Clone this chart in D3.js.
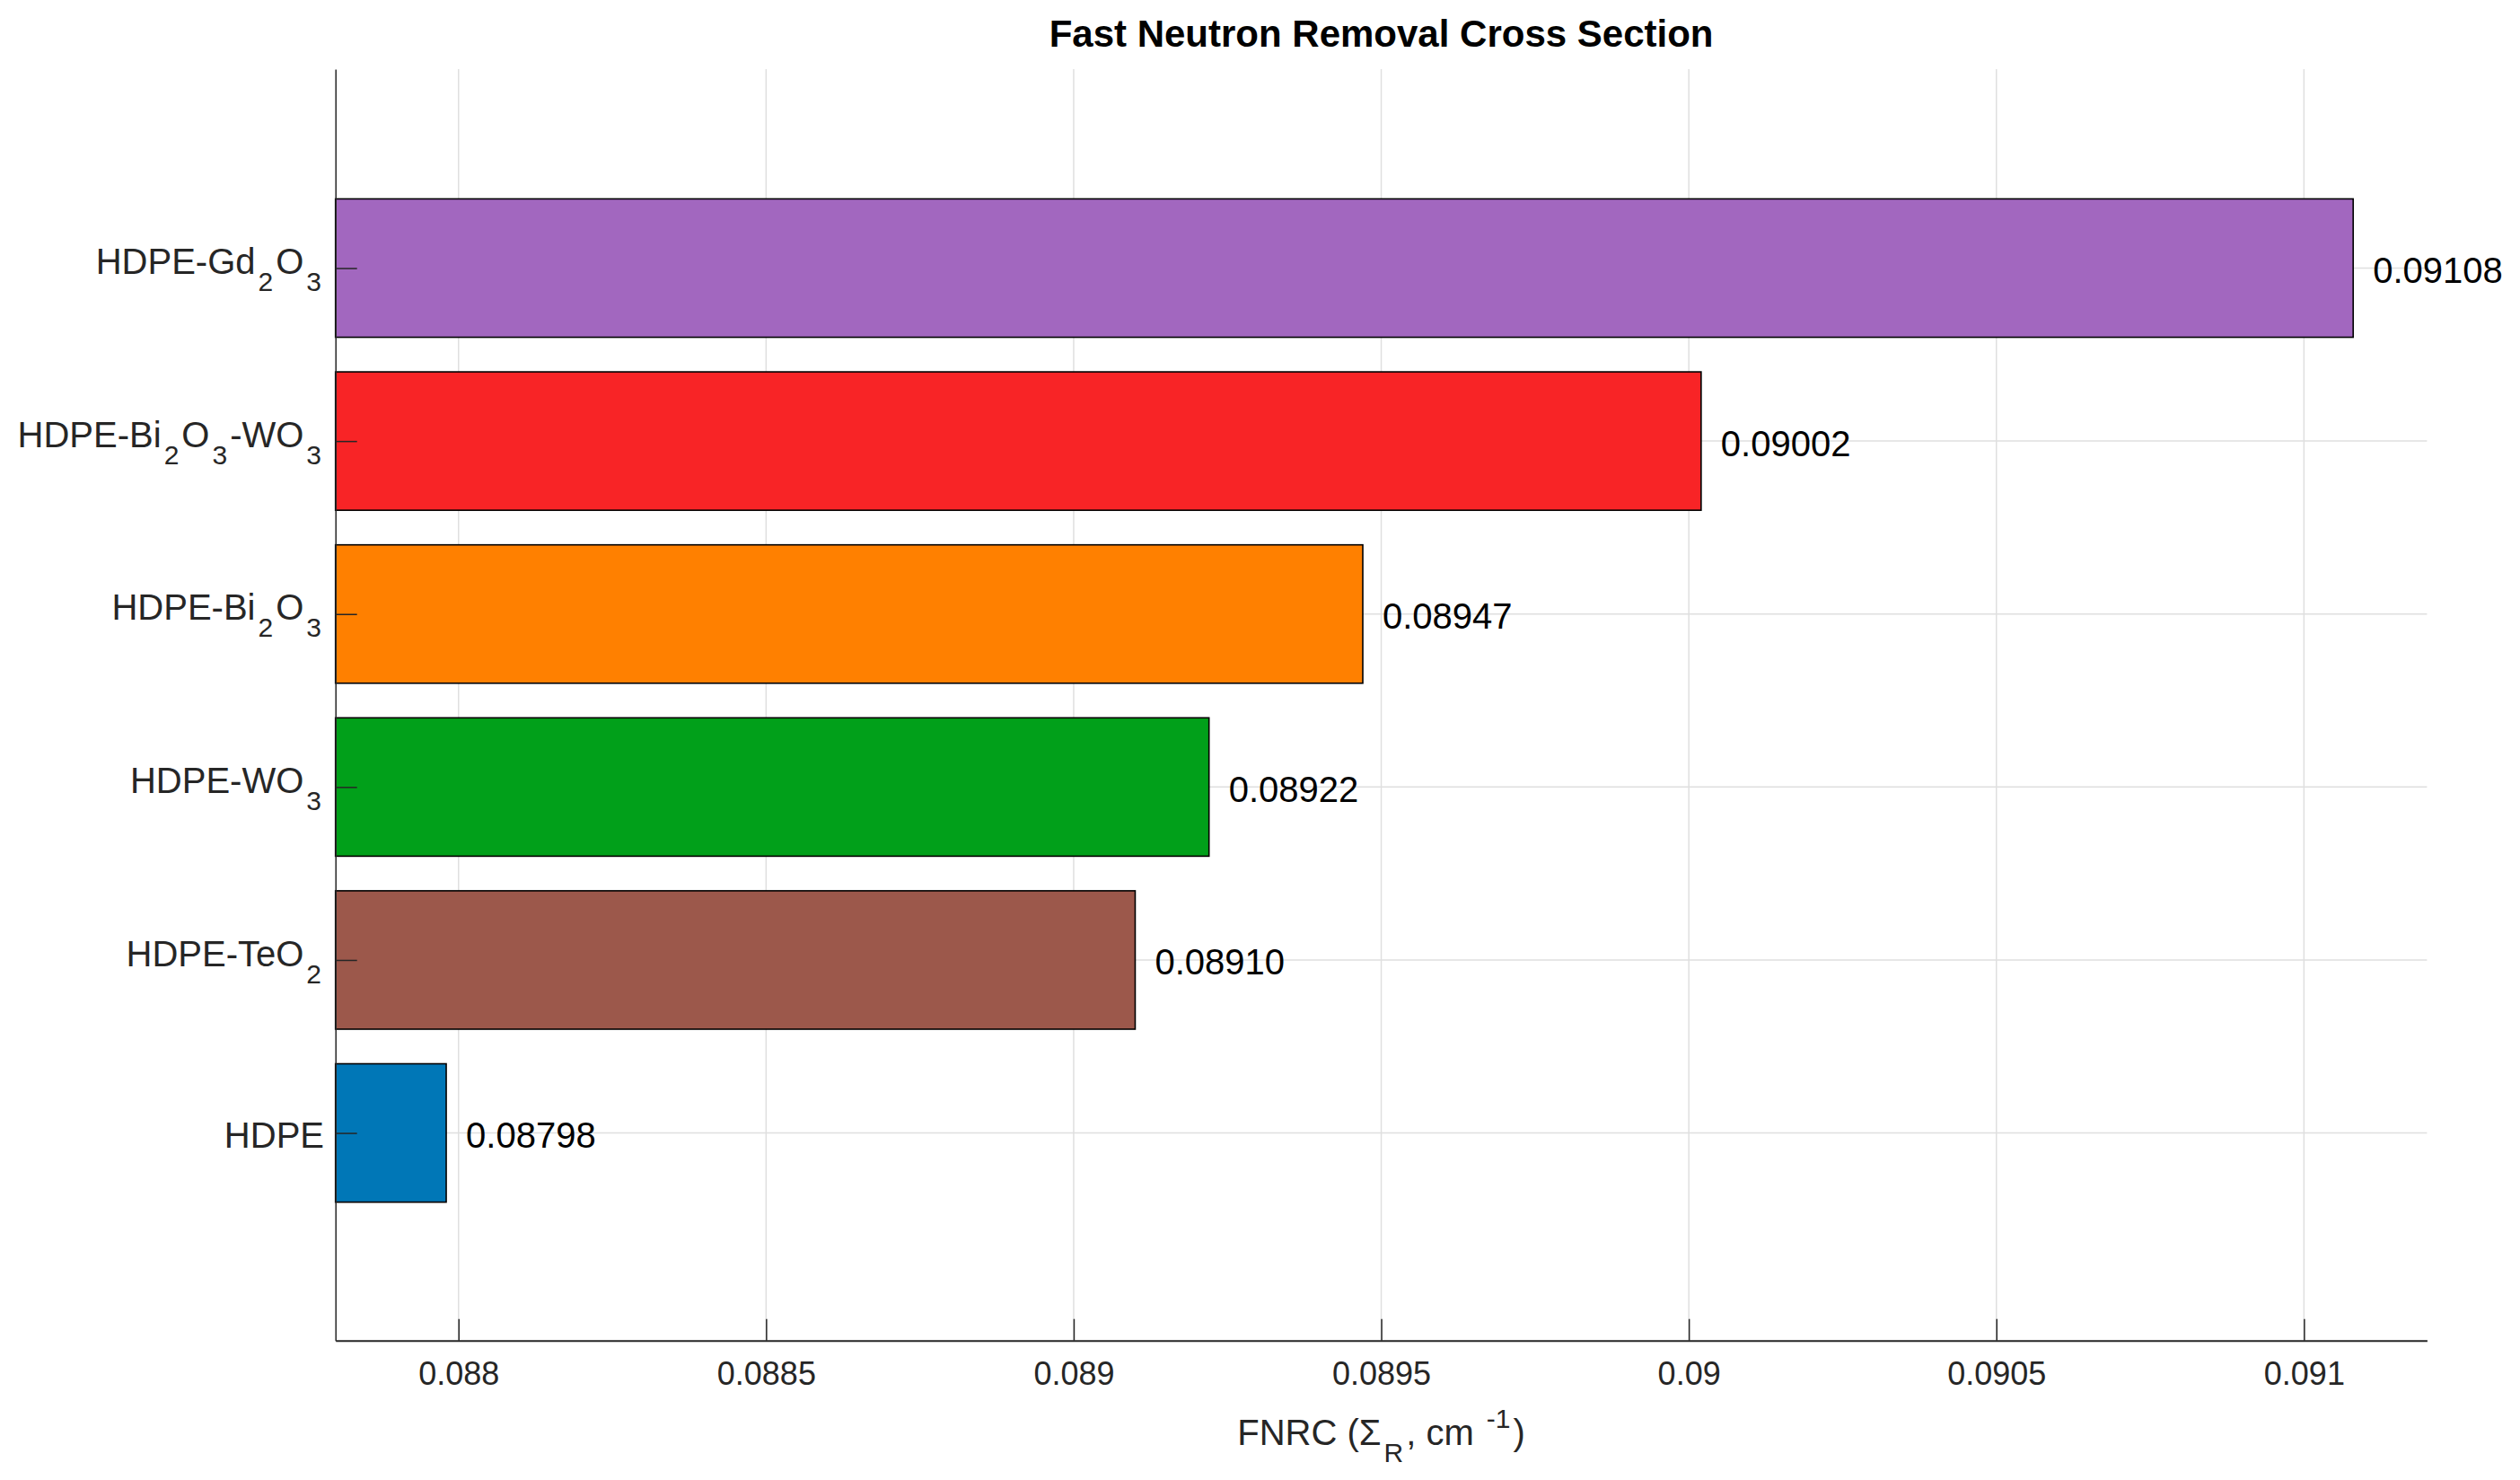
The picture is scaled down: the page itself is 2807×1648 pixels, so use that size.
<!DOCTYPE html>
<html>
<head>
<meta charset="utf-8">
<script src="https://cdn.jsdelivr.net/npm/d3@7"></script>
<style>
  html, body { margin: 0; padding: 0; background: #ffffff; }
  svg { display: block; }
  text { font-family: "Liberation Sans", Arial, Helvetica, sans-serif; }
</style>
</head>
<body>
<script>
// ---- Data ----
const categories = ["HDPE", "HDPE-TeO_2", "HDPE-WO_3", "HDPE-Bi_2O_3", "HDPE-Bi_2O_3-WO_3", "HDPE-Gd_2O_3"];
const values = [0.08798, 0.08910, 0.08922, 0.08947, 0.09002, 0.09108];
const barColors = ["#0077B7", "#9C584B", "#01A01A", "#FF8000", "#F82426", "#A267BF"];
const xTicks = [0.088, 0.0885, 0.089, 0.0895, 0.09, 0.0905, 0.091];
const xTickLabels = ["0.088", "0.0885", "0.089", "0.0895", "0.09", "0.0905", "0.091"];
const titleText = "Fast Neutron Removal Cross Section";

// ---- Layout ----
const W = 2807, H = 1648;
const pLeft = 373.7, pRight = 2703.4, pTop = 77, pBottom = 1492.7;

const svg = d3.select("body").append("svg").attr("width", W).attr("height", H);

const x = d3.scaleLinear().domain([0.0878, 0.0912]).range([pLeft, pRight]);
const y = d3.scaleLinear().domain([-0.2, 7.15]).range([pBottom, pTop]);
const barHalf = 0.4;

// grid
const grid = svg.append("g").attr("stroke", "#dfdfdf").attr("stroke-width", 1.5);
grid.selectAll("line.v").data(xTicks).join("line").attr("class", "v")
  .attr("x1", d => x(d)).attr("x2", d => x(d))
  .attr("y1", pTop).attr("y2", pBottom);
grid.selectAll("line.h").data(categories).join("line").attr("class", "h")
  .attr("x1", pLeft).attr("x2", pRight)
  .attr("y1", (d, i) => y(i + 1)).attr("y2", (d, i) => y(i + 1));

// bars
svg.append("g").selectAll("rect").data(values).join("rect")
  .attr("x", x.range()[0])
  .attr("y", (d, i) => y(i + 1 + barHalf))
  .attr("width", d => x(d) - x.range()[0])
  .attr("height", (d, i) => y(i + 1 - barHalf) - y(i + 1 + barHalf))
  .attr("fill", (d, i) => barColors[i])
  .attr("stroke", "#000").attr("stroke-width", 1.6);

// value labels
svg.append("g").selectAll("text").data(values).join("text")
  .attr("x", d => x(d) + 22)
  .attr("y", (d, i) => y(i + 1) + 16.5)
  .attr("font-size", 40).attr("fill", "#000")
  .text(d => d.toFixed(5));

// x axis
const xAxis = d3.axisBottom(x).tickValues(xTicks)
  .tickFormat((d, i) => xTickLabels[i])
  .tickSizeInner(-24).tickSizeOuter(0).tickPadding(24);
const gx = svg.append("g").attr("transform", `translate(0,${pBottom})`).call(xAxis);
gx.select(".domain").attr("stroke", "#262626").attr("stroke-width", 2);
gx.selectAll(".tick line").attr("stroke", "#262626").attr("stroke-width", 1.5);
gx.selectAll(".tick text").attr("font-size", 36).attr("fill", "#262626")
  .attr("font-family", '"Liberation Sans", Arial, Helvetica, sans-serif');

// y axis
const yAxis = d3.axisLeft(y).tickValues(categories.map((d, i) => i + 1))
  .tickFormat("").tickSizeInner(-24).tickSizeOuter(0);
const gy = svg.append("g").attr("transform", `translate(${pLeft},0)`).call(yAxis);
gy.select(".domain").attr("stroke", "#262626").attr("stroke-width", 1.5);
gy.selectAll(".tick line").attr("stroke", "#262626").attr("stroke-width", 1.5);

// rich text with subscripts/superscripts
function addRich(textSel, str, baseSize, subSize, shift, gap) {
  // "_c" -> subscript char, "^{...}" -> superscript
  let i = 0, level = 0;
  const parts = [];
  while (i < str.length) {
    if (str[i] === "_") {
      parts.push({ t: str[i + 1], l: 1 }); i += 2;
    } else if (str[i] === "^") {
      const end = str.indexOf("}", i);
      parts.push({ t: str.slice(i + 2, end), l: -1 }); i = end + 1;
    } else {
      let j = i;
      while (j < str.length && str[j] !== "_" && str[j] !== "^") j++;
      parts.push({ t: str.slice(i, j), l: 0 }); i = j;
    }
  }
  parts.forEach((p, k) => {
    const target = p.l * shift;
    const dy = target - level;
    level = target;
    let dx = 0;
    if (p.l !== 0) dx = gap;
    else if (k > 0 && parts[k - 1].l !== 0) dx = gap;
    textSel.append("tspan")
      .attr("dy", dy).attr("dx", dx)
      .attr("font-size", p.l === 0 ? baseSize : subSize)
      .text(p.t);
  });
}

const yl = svg.append("g");
categories.forEach((c, i) => {
  const hasSub = c.includes("_");
  const t = yl.append("text")
    .attr("x", hasSub ? 358 : 361)
    .attr("y", y(i + 1) + (hasSub ? 6.6 : 16.3))
    .attr("text-anchor", "end")
    .attr("fill", "#262626");
  addRich(t, c, 40, 30, 19, 3);
});

// x axis label
const xl = svg.append("text")
  .attr("x", (pLeft + pRight) / 2).attr("y", 1609)
  .attr("text-anchor", "middle").attr("fill", "#262626");
addRich(xl, "FNRC (\u03A3_R, cm ^{-1})", 40, 30, 19, 3);

// title
svg.append("text")
  .attr("x", (pLeft + pRight) / 2).attr("y", 52)
  .attr("text-anchor", "middle").attr("font-size", 42).attr("font-weight", "bold")
  .attr("fill", "#000").text(titleText);
</script>
</body>
</html>
